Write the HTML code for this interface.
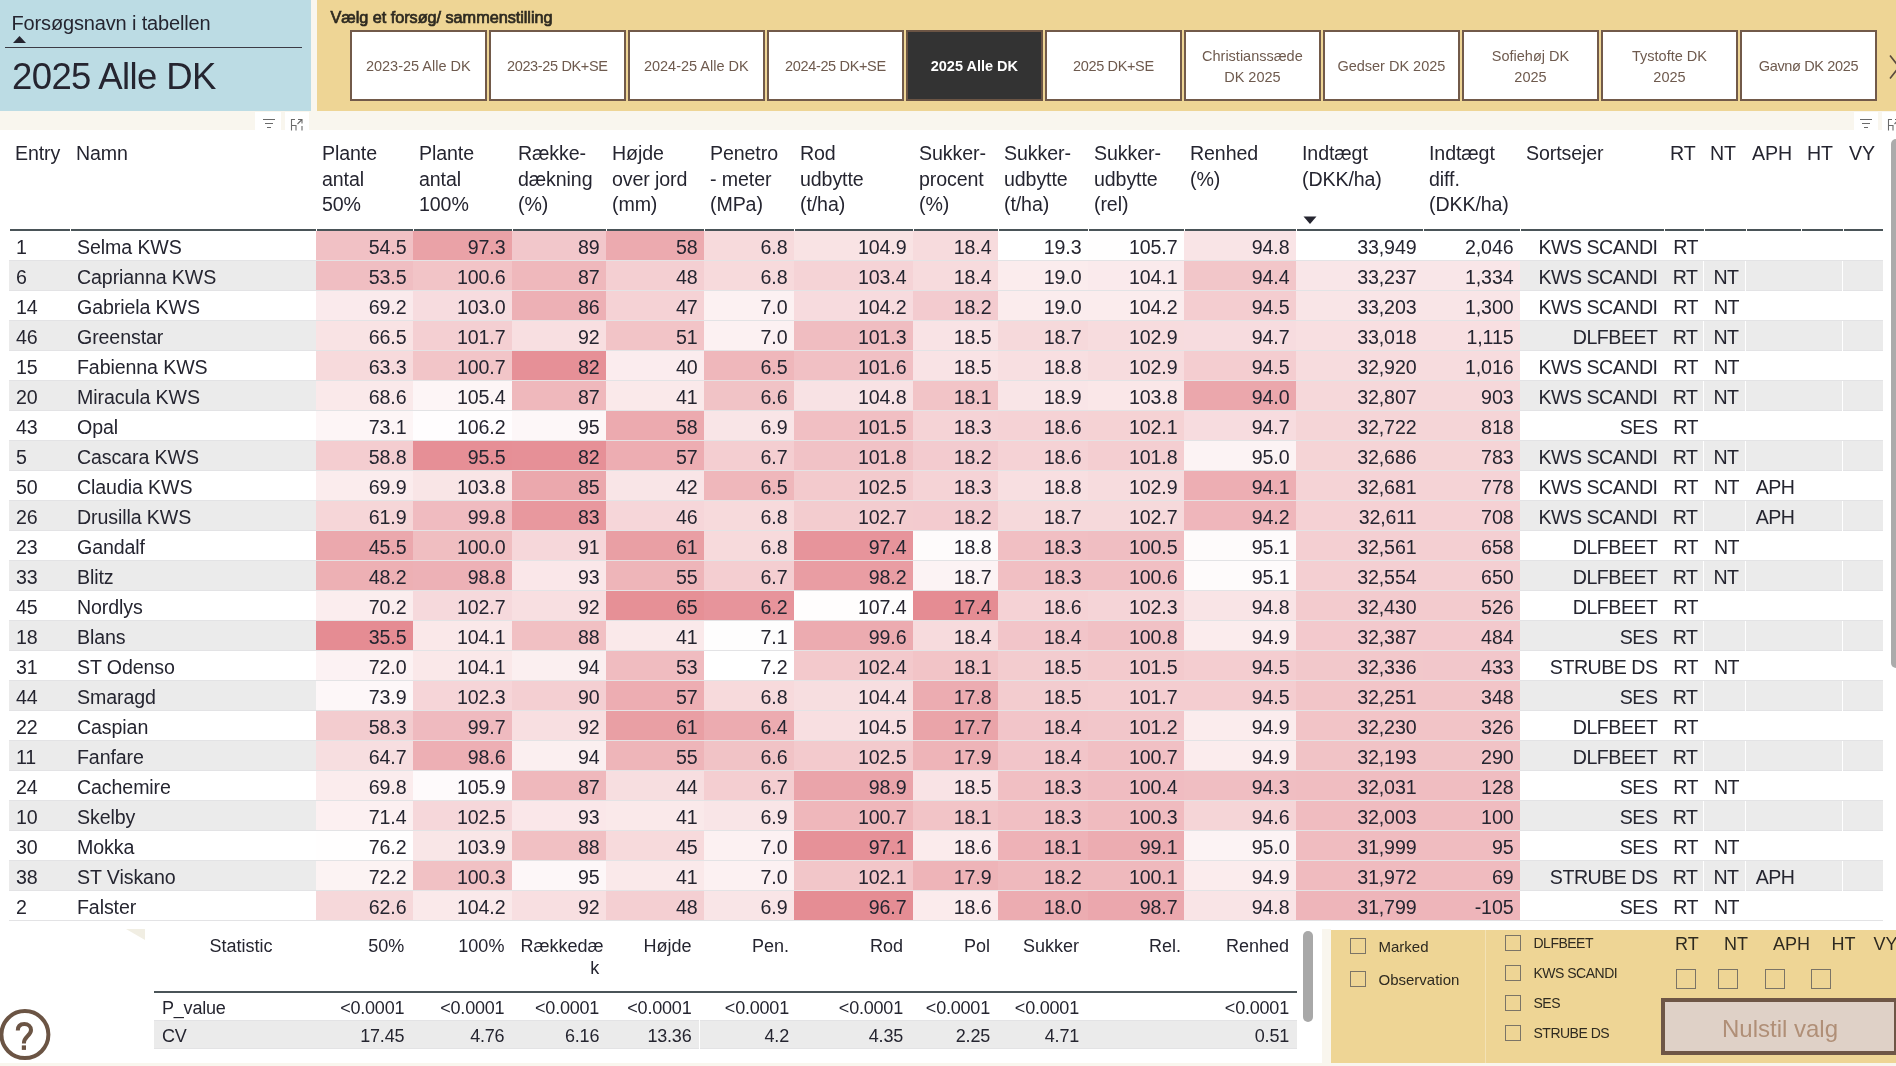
<!DOCTYPE html>
<html><head><meta charset="utf-8"><style>
*{margin:0;padding:0;box-sizing:border-box}
html,body{width:1896px;height:1066px;overflow:hidden}
body{background:#f9f6ee;font-family:"Liberation Sans",sans-serif;color:#252530;position:relative}
.a{position:absolute}
#wrap{position:absolute;left:0;top:0;width:1896px;height:1066px;will-change:transform}
#blue{left:0;top:0;width:311px;height:111px;background:#bcdce4}
#yel{left:317px;top:0;width:1579px;height:111px;background:#eed595}
.btn{position:absolute;top:30px;width:136.6px;height:71px;border:2px solid #725a4a;background:#fff;color:#6e5a4e;font-size:14.5px;display:flex;align-items:center;justify-content:center;text-align:center;line-height:21px;padding-top:2px}
.btn.act{background:#333;color:#fff;font-weight:bold;border-color:#6b5444}
#white{left:0;top:130px;width:1896px;height:933px;background:#fff}
.c{position:absolute;height:30px;line-height:33px;font-size:19.6px;letter-spacing:-0.1px;padding:0 6.5px 0 7px;white-space:nowrap;overflow:hidden;border-bottom:1px solid #e3e3e5}
.c.g{background:#ebebeb}
.c.r{text-align:right}
.c.m{text-align:center;padding:0 0 0 3px;letter-spacing:-0.6px}
.h{position:absolute;top:141px;font-size:19.6px;line-height:25.5px;padding:0 6px;white-space:nowrap;letter-spacing:-0.1px}
.hl{position:absolute;top:229px;height:2px;background:#4a5458}
.sh{position:absolute;top:934.5px;font-size:18px;line-height:22px;padding:0 8px;text-align:right;white-space:nowrap}
.sc{position:absolute;height:28px;line-height:30px;font-size:18px;padding:0 8px;text-align:right;white-space:nowrap;border-bottom:1px solid #e3e3e5;letter-spacing:-0.2px}
.sc.l{text-align:left}
.sc.g{background:#ebebeb}
.cb{position:absolute;width:16px;height:16px;border:1.3px solid #7b7466}
.cb2{position:absolute;width:20px;height:20px;border:1.3px solid #7b7466}
.lb{font-size:15px;color:#2e2a20}
.lb2{font-size:14px;color:#2e2a20;letter-spacing:-0.5px}
.lb3{font-size:18px;color:#2e2a20}
</style></head><body><div id="wrap">
<div id="blue" class="a"></div>
<div id="yel" class="a"></div>
<div class="a" style="left:11.5px;top:11.5px;font-size:20px;color:#252530;letter-spacing:-0.15px">Forsøgsnavn i tabellen</div>
<svg class="a" style="left:12px;top:35px" width="16" height="9"><path d="M1 8 L7.5 1 L14 8 Z" fill="#252530"/></svg>
<div class="a" style="left:5px;top:47px;width:297px;height:1px;background:#3b3b45"></div>
<div class="a" style="left:12px;top:56px;font-size:36.5px;color:#252530;letter-spacing:-0.6px">2025 Alle DK</div>
<div class="a" style="left:330.5px;top:7.5px;font-size:16.3px;color:#2e2a20;-webkit-text-stroke:0.7px #2e2a20;letter-spacing:-0.05px">Vælg et forsøg/ sammenstilling</div>
<div class="btn" style="left:350.0px"><span>2023-25 Alle DK</span></div><div class="btn" style="left:489.0px;letter-spacing:-0.35px"><span>2023-25 DK+SE</span></div><div class="btn" style="left:628.0px"><span>2024-25 Alle DK</span></div><div class="btn" style="left:767.1px;letter-spacing:-0.35px"><span>2024-25 DK+SE</span></div><div class="btn act" style="left:906.1px"><span>2025 Alle DK</span></div><div class="btn" style="left:1045.1px;letter-spacing:-0.35px"><span>2025 DK+SE</span></div><div class="btn" style="left:1184.1px"><span>Christianssæde<br>DK 2025</span></div><div class="btn" style="left:1323.1px"><span>Gedser DK 2025</span></div><div class="btn" style="left:1462.2px"><span>Sofiehøj DK<br>2025</span></div><div class="btn" style="left:1601.2px"><span>Tystofte DK<br>2025</span></div><div class="btn" style="left:1740.2px;letter-spacing:-0.35px"><span>Gavnø DK 2025</span></div>
<div id="white" class="a"></div>
<div class="h" style="left:9px;width:61px">Entry</div><div class="h" style="left:70px;width:246px">Namn</div><div class="h" style="left:316px;width:97px">Plante<br>antal<br>50%</div><div class="h" style="left:413px;width:99px">Plante<br>antal<br>100%</div><div class="h" style="left:512px;width:94px">Række-<br>dækning<br>(%)</div><div class="h" style="left:606px;width:98px">Højde<br>over jord<br>(mm)</div><div class="h" style="left:704px;width:90px">Penetro<br>- meter<br>(MPa)</div><div class="h" style="left:794px;width:119px">Rod<br>udbytte<br>(t/ha)</div><div class="h" style="left:913px;width:85px">Sukker-<br>procent<br>(%)</div><div class="h" style="left:998px;width:90px">Sukker-<br>udbytte<br>(t/ha)</div><div class="h" style="left:1088px;width:96px">Sukker-<br>udbytte<br>(rel)</div><div class="h" style="left:1184px;width:112px">Renhed<br>(%)</div><div class="h" style="left:1296px;width:127px">Indtægt<br>(DKK/ha)</div><div class="h" style="left:1423px;width:97px">Indtægt<br>diff.<br>(DKK/ha)</div><div class="h" style="left:1520px;width:144px">Sortsejer</div><div class="h" style="left:1664px;width:40px">RT</div><div class="h" style="left:1704px;width:42px">NT</div><div class="h" style="left:1746px;width:55px">APH</div><div class="h" style="left:1801px;width:42px">HT</div><div class="h" style="left:1843px;width:40px">VY</div>
<div class="hl" style="left:10px;width:60px"></div><div class="hl" style="left:71px;width:245px"></div><div class="hl" style="left:317px;width:96px"></div><div class="hl" style="left:414px;width:98px"></div><div class="hl" style="left:513px;width:93px"></div><div class="hl" style="left:607px;width:97px"></div><div class="hl" style="left:705px;width:89px"></div><div class="hl" style="left:795px;width:118px"></div><div class="hl" style="left:914px;width:84px"></div><div class="hl" style="left:999px;width:89px"></div><div class="hl" style="left:1089px;width:95px"></div><div class="hl" style="left:1185px;width:111px"></div><div class="hl" style="left:1297px;width:126px"></div><div class="hl" style="left:1424px;width:96px"></div><div class="hl" style="left:1521px;width:143px"></div><div class="hl" style="left:1665px;width:39px"></div><div class="hl" style="left:1705px;width:41px"></div><div class="hl" style="left:1747px;width:54px"></div><div class="hl" style="left:1802px;width:41px"></div><div class="hl" style="left:1844px;width:39px"></div>
<div class="c" style="left:9px;top:231px;width:61px">1</div><div class="c" style="left:70px;top:231px;width:246px">Selma KWS</div><div class="c r" style="left:316px;top:231px;width:97px;background:#f1c1c5">54.5</div><div class="c r" style="left:413px;top:231px;width:99px;background:#eaa2a7">97.3</div><div class="c r" style="left:512px;top:231px;width:94px;background:#f2c7cb">89</div><div class="c r" style="left:606px;top:231px;width:98px;background:#ecaaaf">58</div><div class="c r" style="left:704px;top:231px;width:90px;background:#f7dadc">6.8</div><div class="c r" style="left:794px;top:231px;width:119px;background:#f9e3e4">104.9</div><div class="c r" style="left:913px;top:231px;width:85px;background:#f7dbdd">18.4</div><div class="c r" style="left:998px;top:231px;width:90px;background:#ffffff">19.3</div><div class="c r" style="left:1088px;top:231px;width:96px;background:#fffefe">105.7</div><div class="c r" style="left:1184px;top:231px;width:112px;background:#f9e4e6">94.8</div><div class="c r" style="left:1296px;top:231px;width:127px;background:#ffffff">33,949</div><div class="c r" style="left:1423px;top:231px;width:97px;background:#ffffff">2,046</div><div class="c r" style="left:1520px;top:231px;width:144px;letter-spacing:-0.5px">KWS SCANDI</div><div class="c m" style="left:1664px;top:231px;width:40px">RT</div><div class="c m" style="left:1704px;top:231px;width:42px"></div><div class="c m" style="left:1746px;top:231px;width:55px"></div><div class="c m" style="left:1801px;top:231px;width:42px"></div><div class="c m" style="left:1843px;top:231px;width:40px"></div><div class="c g" style="left:9px;top:261px;width:61px">6</div><div class="c g" style="left:70px;top:261px;width:246px">Caprianna KWS</div><div class="c r" style="left:316px;top:261px;width:97px;background:#f0bec2">53.5</div><div class="c r" style="left:413px;top:261px;width:99px;background:#f2c4c7">100.6</div><div class="c r" style="left:512px;top:261px;width:94px;background:#efb8bc">87</div><div class="c r" style="left:606px;top:261px;width:98px;background:#f4cfd2">48</div><div class="c r" style="left:704px;top:261px;width:90px;background:#f7dadc">6.8</div><div class="c r" style="left:794px;top:261px;width:119px;background:#f5d3d6">103.4</div><div class="c r" style="left:913px;top:261px;width:85px;background:#f7dbdd">18.4</div><div class="c r" style="left:998px;top:261px;width:90px;background:#fbeced">19.0</div><div class="c r" style="left:1088px;top:261px;width:96px;background:#faeaec">104.1</div><div class="c r" style="left:1184px;top:261px;width:112px;background:#f2c6c9">94.4</div><div class="c r" style="left:1296px;top:261px;width:127px;background:#f9e6e8">33,237</div><div class="c r" style="left:1423px;top:261px;width:97px;background:#f9e6e8">1,334</div><div class="c g r" style="left:1520px;top:261px;width:144px;letter-spacing:-0.5px">KWS SCANDI</div><div class="c g m" style="left:1664px;top:261px;width:39px">RT</div><div class="c g m" style="left:1704px;top:261px;width:41px">NT</div><div class="c g m" style="left:1746px;top:261px;width:55px"></div><div class="c g m" style="left:1801px;top:261px;width:41px"></div><div class="c g m" style="left:1843px;top:261px;width:40px"></div><div class="c" style="left:9px;top:291px;width:61px">14</div><div class="c" style="left:70px;top:291px;width:246px">Gabriela KWS</div><div class="c r" style="left:316px;top:291px;width:97px;background:#faeaec">69.2</div><div class="c r" style="left:413px;top:291px;width:99px;background:#f7dcdf">103.0</div><div class="c r" style="left:512px;top:291px;width:94px;background:#edb0b5">86</div><div class="c r" style="left:606px;top:291px;width:98px;background:#f5d2d5">47</div><div class="c r" style="left:704px;top:291px;width:90px;background:#fcf1f2">7.0</div><div class="c r" style="left:794px;top:291px;width:119px;background:#f7dbde">104.2</div><div class="c r" style="left:913px;top:291px;width:85px;background:#f3cbcf">18.2</div><div class="c r" style="left:998px;top:291px;width:90px;background:#fbeced">19.0</div><div class="c r" style="left:1088px;top:291px;width:96px;background:#fbeced">104.2</div><div class="c r" style="left:1184px;top:291px;width:112px;background:#f4cdd0">94.5</div><div class="c r" style="left:1296px;top:291px;width:127px;background:#f9e5e7">33,203</div><div class="c r" style="left:1423px;top:291px;width:97px;background:#f9e5e7">1,300</div><div class="c r" style="left:1520px;top:291px;width:144px;letter-spacing:-0.5px">KWS SCANDI</div><div class="c m" style="left:1664px;top:291px;width:40px">RT</div><div class="c m" style="left:1704px;top:291px;width:42px">NT</div><div class="c m" style="left:1746px;top:291px;width:55px"></div><div class="c m" style="left:1801px;top:291px;width:42px"></div><div class="c m" style="left:1843px;top:291px;width:40px"></div><div class="c g" style="left:9px;top:321px;width:61px">46</div><div class="c g" style="left:70px;top:321px;width:246px">Greenstar</div><div class="c r" style="left:316px;top:321px;width:97px;background:#f9e3e4">66.5</div><div class="c r" style="left:413px;top:321px;width:99px;background:#f4cfd2">101.7</div><div class="c r" style="left:512px;top:321px;width:94px;background:#f8dfe1">92</div><div class="c r" style="left:606px;top:321px;width:98px;background:#f2c4c7">51</div><div class="c r" style="left:704px;top:321px;width:90px;background:#fcf1f2">7.0</div><div class="c r" style="left:794px;top:321px;width:119px;background:#f0bdc1">101.3</div><div class="c r" style="left:913px;top:321px;width:85px;background:#f9e3e5">18.5</div><div class="c r" style="left:998px;top:321px;width:90px;background:#f6d9db">18.7</div><div class="c r" style="left:1088px;top:321px;width:96px;background:#f7dcde">102.9</div><div class="c r" style="left:1184px;top:321px;width:112px;background:#f7dcdf">94.7</div><div class="c r" style="left:1296px;top:321px;width:127px;background:#f8dfe1">33,018</div><div class="c r" style="left:1423px;top:321px;width:97px;background:#f8dfe1">1,115</div><div class="c g r" style="left:1520px;top:321px;width:144px;letter-spacing:-0.5px">DLFBEET</div><div class="c g m" style="left:1664px;top:321px;width:39px">RT</div><div class="c g m" style="left:1704px;top:321px;width:41px">NT</div><div class="c g m" style="left:1746px;top:321px;width:55px"></div><div class="c g m" style="left:1801px;top:321px;width:41px"></div><div class="c g m" style="left:1843px;top:321px;width:40px"></div><div class="c" style="left:9px;top:351px;width:61px">15</div><div class="c" style="left:70px;top:351px;width:246px">Fabienna KWS</div><div class="c r" style="left:316px;top:351px;width:97px;background:#f7dadc">63.3</div><div class="c r" style="left:413px;top:351px;width:99px;background:#f2c5c8">100.7</div><div class="c r" style="left:512px;top:351px;width:94px;background:#e69097">82</div><div class="c r" style="left:606px;top:351px;width:98px;background:#fbecee">40</div><div class="c r" style="left:704px;top:351px;width:90px;background:#efb7bb">6.5</div><div class="c r" style="left:794px;top:351px;width:119px;background:#f1c0c4">101.6</div><div class="c r" style="left:913px;top:351px;width:85px;background:#f9e3e5">18.5</div><div class="c r" style="left:998px;top:351px;width:90px;background:#f8dfe1">18.8</div><div class="c r" style="left:1088px;top:351px;width:96px;background:#f7dcde">102.9</div><div class="c r" style="left:1184px;top:351px;width:112px;background:#f4cdd0">94.5</div><div class="c r" style="left:1296px;top:351px;width:127px;background:#f7dcde">32,920</div><div class="c r" style="left:1423px;top:351px;width:97px;background:#f7dcde">1,016</div><div class="c r" style="left:1520px;top:351px;width:144px;letter-spacing:-0.5px">KWS SCANDI</div><div class="c m" style="left:1664px;top:351px;width:40px">RT</div><div class="c m" style="left:1704px;top:351px;width:42px">NT</div><div class="c m" style="left:1746px;top:351px;width:55px"></div><div class="c m" style="left:1801px;top:351px;width:42px"></div><div class="c m" style="left:1843px;top:351px;width:40px"></div><div class="c g" style="left:9px;top:381px;width:61px">20</div><div class="c g" style="left:70px;top:381px;width:246px">Miracula KWS</div><div class="c r" style="left:316px;top:381px;width:97px;background:#fae9ea">68.6</div><div class="c r" style="left:413px;top:381px;width:99px;background:#fdf5f6">105.4</div><div class="c r" style="left:512px;top:381px;width:94px;background:#efb8bc">87</div><div class="c r" style="left:606px;top:381px;width:98px;background:#fae9ea">41</div><div class="c r" style="left:704px;top:381px;width:90px;background:#f1c3c6">6.6</div><div class="c r" style="left:794px;top:381px;width:119px;background:#f8e2e4">104.8</div><div class="c r" style="left:913px;top:381px;width:85px;background:#f2c4c7">18.1</div><div class="c r" style="left:998px;top:381px;width:90px;background:#f9e5e7">18.9</div><div class="c r" style="left:1088px;top:381px;width:96px;background:#fae7e8">103.8</div><div class="c r" style="left:1184px;top:381px;width:112px;background:#eba7ac">94.0</div><div class="c r" style="left:1296px;top:381px;width:127px;background:#f6d8da">32,807</div><div class="c r" style="left:1423px;top:381px;width:97px;background:#f6d8da">903</div><div class="c g r" style="left:1520px;top:381px;width:144px;letter-spacing:-0.5px">KWS SCANDI</div><div class="c g m" style="left:1664px;top:381px;width:39px">RT</div><div class="c g m" style="left:1704px;top:381px;width:41px">NT</div><div class="c g m" style="left:1746px;top:381px;width:55px"></div><div class="c g m" style="left:1801px;top:381px;width:41px"></div><div class="c g m" style="left:1843px;top:381px;width:40px"></div><div class="c" style="left:9px;top:411px;width:61px">43</div><div class="c" style="left:70px;top:411px;width:246px">Opal</div><div class="c r" style="left:316px;top:411px;width:97px;background:#fdf5f6">73.1</div><div class="c r" style="left:413px;top:411px;width:99px;background:#fffdfe">106.2</div><div class="c r" style="left:512px;top:411px;width:94px;background:#fdf7f8">95</div><div class="c r" style="left:606px;top:411px;width:98px;background:#ecaaaf">58</div><div class="c r" style="left:704px;top:411px;width:90px;background:#f9e5e7">6.9</div><div class="c r" style="left:794px;top:411px;width:119px;background:#f1bfc3">101.5</div><div class="c r" style="left:913px;top:411px;width:85px;background:#f5d3d6">18.3</div><div class="c r" style="left:998px;top:411px;width:90px;background:#f5d2d5">18.6</div><div class="c r" style="left:1088px;top:411px;width:96px;background:#f5d2d4">102.1</div><div class="c r" style="left:1184px;top:411px;width:112px;background:#f7dcdf">94.7</div><div class="c r" style="left:1296px;top:411px;width:127px;background:#f5d5d7">32,722</div><div class="c r" style="left:1423px;top:411px;width:97px;background:#f5d5d7">818</div><div class="c r" style="left:1520px;top:411px;width:144px;letter-spacing:-0.5px">SES</div><div class="c m" style="left:1664px;top:411px;width:40px">RT</div><div class="c m" style="left:1704px;top:411px;width:42px"></div><div class="c m" style="left:1746px;top:411px;width:55px"></div><div class="c m" style="left:1801px;top:411px;width:42px"></div><div class="c m" style="left:1843px;top:411px;width:40px"></div><div class="c g" style="left:9px;top:441px;width:61px">5</div><div class="c g" style="left:70px;top:441px;width:246px">Cascara KWS</div><div class="c r" style="left:316px;top:441px;width:97px;background:#f4cdd0">58.8</div><div class="c r" style="left:413px;top:441px;width:99px;background:#e68f96">95.5</div><div class="c r" style="left:512px;top:441px;width:94px;background:#e69097">82</div><div class="c r" style="left:606px;top:441px;width:98px;background:#edadb2">57</div><div class="c r" style="left:704px;top:441px;width:90px;background:#f4ced1">6.7</div><div class="c r" style="left:794px;top:441px;width:119px;background:#f1c2c6">101.8</div><div class="c r" style="left:913px;top:441px;width:85px;background:#f3cbcf">18.2</div><div class="c r" style="left:998px;top:441px;width:90px;background:#f5d2d5">18.6</div><div class="c r" style="left:1088px;top:441px;width:96px;background:#f4ced1">101.8</div><div class="c r" style="left:1184px;top:441px;width:112px;background:#fcf3f4">95.0</div><div class="c r" style="left:1296px;top:441px;width:127px;background:#f5d4d6">32,686</div><div class="c r" style="left:1423px;top:441px;width:97px;background:#f5d4d6">783</div><div class="c g r" style="left:1520px;top:441px;width:144px;letter-spacing:-0.5px">KWS SCANDI</div><div class="c g m" style="left:1664px;top:441px;width:39px">RT</div><div class="c g m" style="left:1704px;top:441px;width:41px">NT</div><div class="c g m" style="left:1746px;top:441px;width:55px"></div><div class="c g m" style="left:1801px;top:441px;width:41px"></div><div class="c g m" style="left:1843px;top:441px;width:40px"></div><div class="c" style="left:9px;top:471px;width:61px">50</div><div class="c" style="left:70px;top:471px;width:246px">Claudia KWS</div><div class="c r" style="left:316px;top:471px;width:97px;background:#fbeced">69.9</div><div class="c r" style="left:413px;top:471px;width:99px;background:#f9e5e6">103.8</div><div class="c r" style="left:512px;top:471px;width:94px;background:#eba8ad">85</div><div class="c r" style="left:606px;top:471px;width:98px;background:#f9e5e7">42</div><div class="c r" style="left:704px;top:471px;width:90px;background:#efb7bb">6.5</div><div class="c r" style="left:794px;top:471px;width:119px;background:#f3cacd">102.5</div><div class="c r" style="left:913px;top:471px;width:85px;background:#f5d3d6">18.3</div><div class="c r" style="left:998px;top:471px;width:90px;background:#f8dfe1">18.8</div><div class="c r" style="left:1088px;top:471px;width:96px;background:#f7dcde">102.9</div><div class="c r" style="left:1184px;top:471px;width:112px;background:#edaeb3">94.1</div><div class="c r" style="left:1296px;top:471px;width:127px;background:#f5d3d6">32,681</div><div class="c r" style="left:1423px;top:471px;width:97px;background:#f5d3d6">778</div><div class="c r" style="left:1520px;top:471px;width:144px;letter-spacing:-0.5px">KWS SCANDI</div><div class="c m" style="left:1664px;top:471px;width:40px">RT</div><div class="c m" style="left:1704px;top:471px;width:42px">NT</div><div class="c m" style="left:1746px;top:471px;width:55px">APH</div><div class="c m" style="left:1801px;top:471px;width:42px"></div><div class="c m" style="left:1843px;top:471px;width:40px"></div><div class="c g" style="left:9px;top:501px;width:61px">26</div><div class="c g" style="left:70px;top:501px;width:246px">Drusilla KWS</div><div class="c r" style="left:316px;top:501px;width:97px;background:#f6d6d8">61.9</div><div class="c r" style="left:413px;top:501px;width:99px;background:#f0bbc0">99.8</div><div class="c r" style="left:512px;top:501px;width:94px;background:#e8989e">83</div><div class="c r" style="left:606px;top:501px;width:98px;background:#f6d6d9">46</div><div class="c r" style="left:704px;top:501px;width:90px;background:#f7dadc">6.8</div><div class="c r" style="left:794px;top:501px;width:119px;background:#f3cccf">102.7</div><div class="c r" style="left:913px;top:501px;width:85px;background:#f3cbcf">18.2</div><div class="c r" style="left:998px;top:501px;width:90px;background:#f6d9db">18.7</div><div class="c r" style="left:1088px;top:501px;width:96px;background:#f6d9db">102.7</div><div class="c r" style="left:1184px;top:501px;width:112px;background:#efb6bb">94.2</div><div class="c r" style="left:1296px;top:501px;width:127px;background:#f5d1d4">32,611</div><div class="c r" style="left:1423px;top:501px;width:97px;background:#f5d1d4">708</div><div class="c g r" style="left:1520px;top:501px;width:144px;letter-spacing:-0.5px">KWS SCANDI</div><div class="c g m" style="left:1664px;top:501px;width:39px">RT</div><div class="c g m" style="left:1704px;top:501px;width:41px"></div><div class="c g m" style="left:1746px;top:501px;width:55px">APH</div><div class="c g m" style="left:1801px;top:501px;width:41px"></div><div class="c g m" style="left:1843px;top:501px;width:40px"></div><div class="c" style="left:9px;top:531px;width:61px">23</div><div class="c" style="left:70px;top:531px;width:246px">Gandalf</div><div class="c r" style="left:316px;top:531px;width:97px;background:#eba8ad">45.5</div><div class="c r" style="left:413px;top:531px;width:99px;background:#f0bec1">100.0</div><div class="c r" style="left:512px;top:531px;width:94px;background:#f6d7da">91</div><div class="c r" style="left:606px;top:531px;width:98px;background:#e99fa4">61</div><div class="c r" style="left:704px;top:531px;width:90px;background:#f7dadc">6.8</div><div class="c r" style="left:794px;top:531px;width:119px;background:#e7949b">97.4</div><div class="c r" style="left:913px;top:531px;width:85px;background:#fefbfb">18.8</div><div class="c r" style="left:998px;top:531px;width:90px;background:#f1bfc3">18.3</div><div class="c r" style="left:1088px;top:531px;width:96px;background:#f0bec2">100.5</div><div class="c r" style="left:1184px;top:531px;width:112px;background:#fefbfb">95.1</div><div class="c r" style="left:1296px;top:531px;width:127px;background:#f4cfd2">32,561</div><div class="c r" style="left:1423px;top:531px;width:97px;background:#f4cfd2">658</div><div class="c r" style="left:1520px;top:531px;width:144px;letter-spacing:-0.5px">DLFBEET</div><div class="c m" style="left:1664px;top:531px;width:40px">RT</div><div class="c m" style="left:1704px;top:531px;width:42px">NT</div><div class="c m" style="left:1746px;top:531px;width:55px"></div><div class="c m" style="left:1801px;top:531px;width:42px"></div><div class="c m" style="left:1843px;top:531px;width:40px"></div><div class="c g" style="left:9px;top:561px;width:61px">33</div><div class="c g" style="left:70px;top:561px;width:246px">Blitz</div><div class="c r" style="left:316px;top:561px;width:97px;background:#edb0b4">48.2</div><div class="c r" style="left:413px;top:561px;width:99px;background:#edb1b6">98.8</div><div class="c r" style="left:512px;top:561px;width:94px;background:#fae7e9">93</div><div class="c r" style="left:606px;top:561px;width:98px;background:#eeb5b9">55</div><div class="c r" style="left:704px;top:561px;width:90px;background:#f4ced1">6.7</div><div class="c r" style="left:794px;top:561px;width:119px;background:#e99da3">98.2</div><div class="c r" style="left:913px;top:561px;width:85px;background:#fcf3f4">18.7</div><div class="c r" style="left:998px;top:561px;width:90px;background:#f1bfc3">18.3</div><div class="c r" style="left:1088px;top:561px;width:96px;background:#f1bfc3">100.6</div><div class="c r" style="left:1184px;top:561px;width:112px;background:#fefbfb">95.1</div><div class="c r" style="left:1296px;top:561px;width:127px;background:#f4cfd2">32,554</div><div class="c r" style="left:1423px;top:561px;width:97px;background:#f4cfd2">650</div><div class="c g r" style="left:1520px;top:561px;width:144px;letter-spacing:-0.5px">DLFBEET</div><div class="c g m" style="left:1664px;top:561px;width:39px">RT</div><div class="c g m" style="left:1704px;top:561px;width:41px">NT</div><div class="c g m" style="left:1746px;top:561px;width:55px"></div><div class="c g m" style="left:1801px;top:561px;width:41px"></div><div class="c g m" style="left:1843px;top:561px;width:40px"></div><div class="c" style="left:9px;top:591px;width:61px">45</div><div class="c" style="left:70px;top:591px;width:246px">Nordlys</div><div class="c r" style="left:316px;top:591px;width:97px;background:#fbedee">70.2</div><div class="c r" style="left:413px;top:591px;width:99px;background:#f6d9dc">102.7</div><div class="c r" style="left:512px;top:591px;width:94px;background:#f8dfe1">92</div><div class="c r" style="left:606px;top:591px;width:98px;background:#e69096">65</div><div class="c r" style="left:704px;top:591px;width:90px;background:#e7949b">6.2</div><div class="c r" style="left:794px;top:591px;width:119px;background:#fffdfd">107.4</div><div class="c r" style="left:913px;top:591px;width:85px;background:#e58c93">17.4</div><div class="c r" style="left:998px;top:591px;width:90px;background:#f5d2d5">18.6</div><div class="c r" style="left:1088px;top:591px;width:96px;background:#f5d4d7">102.3</div><div class="c r" style="left:1184px;top:591px;width:112px;background:#f9e4e6">94.8</div><div class="c r" style="left:1296px;top:591px;width:127px;background:#f3cbce">32,430</div><div class="c r" style="left:1423px;top:591px;width:97px;background:#f3cbce">526</div><div class="c r" style="left:1520px;top:591px;width:144px;letter-spacing:-0.5px">DLFBEET</div><div class="c m" style="left:1664px;top:591px;width:40px">RT</div><div class="c m" style="left:1704px;top:591px;width:42px"></div><div class="c m" style="left:1746px;top:591px;width:55px"></div><div class="c m" style="left:1801px;top:591px;width:42px"></div><div class="c m" style="left:1843px;top:591px;width:40px"></div><div class="c g" style="left:9px;top:621px;width:61px">18</div><div class="c g" style="left:70px;top:621px;width:246px">Blans</div><div class="c r" style="left:316px;top:621px;width:97px;background:#e58c93">35.5</div><div class="c r" style="left:413px;top:621px;width:99px;background:#fae8e9">104.1</div><div class="c r" style="left:512px;top:621px;width:94px;background:#f1c0c3">88</div><div class="c r" style="left:606px;top:621px;width:98px;background:#fae9ea">41</div><div class="c r" style="left:704px;top:621px;width:90px;background:#fefdfd">7.1</div><div class="c r" style="left:794px;top:621px;width:119px;background:#ecabb0">99.6</div><div class="c r" style="left:913px;top:621px;width:85px;background:#f7dbdd">18.4</div><div class="c r" style="left:998px;top:621px;width:90px;background:#f2c5c9">18.4</div><div class="c r" style="left:1088px;top:621px;width:96px;background:#f1c1c5">100.8</div><div class="c r" style="left:1184px;top:621px;width:112px;background:#fbeced">94.9</div><div class="c r" style="left:1296px;top:621px;width:127px;background:#f3c9cd">32,387</div><div class="c r" style="left:1423px;top:621px;width:97px;background:#f3c9cd">484</div><div class="c g r" style="left:1520px;top:621px;width:144px;letter-spacing:-0.5px">SES</div><div class="c g m" style="left:1664px;top:621px;width:39px">RT</div><div class="c g m" style="left:1704px;top:621px;width:41px"></div><div class="c g m" style="left:1746px;top:621px;width:55px"></div><div class="c g m" style="left:1801px;top:621px;width:41px"></div><div class="c g m" style="left:1843px;top:621px;width:40px"></div><div class="c" style="left:9px;top:651px;width:61px">31</div><div class="c" style="left:70px;top:651px;width:246px">ST Odenso</div><div class="c r" style="left:316px;top:651px;width:97px;background:#fcf2f3">72.0</div><div class="c r" style="left:413px;top:651px;width:99px;background:#fae8e9">104.1</div><div class="c r" style="left:512px;top:651px;width:94px;background:#fbeff0">94</div><div class="c r" style="left:606px;top:651px;width:98px;background:#f0bcc0">53</div><div class="c r" style="left:704px;top:651px;width:90px;background:#ffffff">7.2</div><div class="c r" style="left:794px;top:651px;width:119px;background:#f3c9cc">102.4</div><div class="c r" style="left:913px;top:651px;width:85px;background:#f2c4c7">18.1</div><div class="c r" style="left:998px;top:651px;width:90px;background:#f3cccf">18.5</div><div class="c r" style="left:1088px;top:651px;width:96px;background:#f3cacd">101.5</div><div class="c r" style="left:1184px;top:651px;width:112px;background:#f4cdd0">94.5</div><div class="c r" style="left:1296px;top:651px;width:127px;background:#f2c8cb">32,336</div><div class="c r" style="left:1423px;top:651px;width:97px;background:#f2c7cb">433</div><div class="c r" style="left:1520px;top:651px;width:144px;letter-spacing:-0.5px">STRUBE DS</div><div class="c m" style="left:1664px;top:651px;width:40px">RT</div><div class="c m" style="left:1704px;top:651px;width:42px">NT</div><div class="c m" style="left:1746px;top:651px;width:55px"></div><div class="c m" style="left:1801px;top:651px;width:42px"></div><div class="c m" style="left:1843px;top:651px;width:40px"></div><div class="c g" style="left:9px;top:681px;width:61px">44</div><div class="c g" style="left:70px;top:681px;width:246px">Smaragd</div><div class="c r" style="left:316px;top:681px;width:97px;background:#fdf7f8">73.9</div><div class="c r" style="left:413px;top:681px;width:99px;background:#f6d5d8">102.3</div><div class="c r" style="left:512px;top:681px;width:94px;background:#f4cfd2">90</div><div class="c r" style="left:606px;top:681px;width:98px;background:#edadb2">57</div><div class="c r" style="left:704px;top:681px;width:90px;background:#f7dadc">6.8</div><div class="c r" style="left:794px;top:681px;width:119px;background:#f7dee0">104.4</div><div class="c r" style="left:913px;top:681px;width:85px;background:#ecacb1">17.8</div><div class="c r" style="left:998px;top:681px;width:90px;background:#f3cccf">18.5</div><div class="c r" style="left:1088px;top:681px;width:96px;background:#f4cdd0">101.7</div><div class="c r" style="left:1184px;top:681px;width:112px;background:#f4cdd0">94.5</div><div class="c r" style="left:1296px;top:681px;width:127px;background:#f2c5c8">32,251</div><div class="c r" style="left:1423px;top:681px;width:97px;background:#f2c5c8">348</div><div class="c g r" style="left:1520px;top:681px;width:144px;letter-spacing:-0.5px">SES</div><div class="c g m" style="left:1664px;top:681px;width:39px">RT</div><div class="c g m" style="left:1704px;top:681px;width:41px"></div><div class="c g m" style="left:1746px;top:681px;width:55px"></div><div class="c g m" style="left:1801px;top:681px;width:41px"></div><div class="c g m" style="left:1843px;top:681px;width:40px"></div><div class="c" style="left:9px;top:711px;width:61px">22</div><div class="c" style="left:70px;top:711px;width:246px">Caspian</div><div class="c r" style="left:316px;top:711px;width:97px;background:#f3cccf">58.3</div><div class="c r" style="left:413px;top:711px;width:99px;background:#efbabf">99.7</div><div class="c r" style="left:512px;top:711px;width:94px;background:#f8dfe1">92</div><div class="c r" style="left:606px;top:711px;width:98px;background:#e99fa4">61</div><div class="c r" style="left:704px;top:711px;width:90px;background:#ecabb0">6.4</div><div class="c r" style="left:794px;top:711px;width:119px;background:#f8dfe1">104.5</div><div class="c r" style="left:913px;top:711px;width:85px;background:#eaa4a9">17.7</div><div class="c r" style="left:998px;top:711px;width:90px;background:#f2c5c9">18.4</div><div class="c r" style="left:1088px;top:711px;width:96px;background:#f2c6ca">101.2</div><div class="c r" style="left:1184px;top:711px;width:112px;background:#fbeced">94.9</div><div class="c r" style="left:1296px;top:711px;width:127px;background:#f2c4c7">32,230</div><div class="c r" style="left:1423px;top:711px;width:97px;background:#f2c4c7">326</div><div class="c r" style="left:1520px;top:711px;width:144px;letter-spacing:-0.5px">DLFBEET</div><div class="c m" style="left:1664px;top:711px;width:40px">RT</div><div class="c m" style="left:1704px;top:711px;width:42px"></div><div class="c m" style="left:1746px;top:711px;width:55px"></div><div class="c m" style="left:1801px;top:711px;width:42px"></div><div class="c m" style="left:1843px;top:711px;width:40px"></div><div class="c g" style="left:9px;top:741px;width:61px">11</div><div class="c g" style="left:70px;top:741px;width:246px">Fanfare</div><div class="c r" style="left:316px;top:741px;width:97px;background:#f7dee0">64.7</div><div class="c r" style="left:413px;top:741px;width:99px;background:#edafb4">98.6</div><div class="c r" style="left:512px;top:741px;width:94px;background:#fbeff0">94</div><div class="c r" style="left:606px;top:741px;width:98px;background:#eeb5b9">55</div><div class="c r" style="left:704px;top:741px;width:90px;background:#f1c3c6">6.6</div><div class="c r" style="left:794px;top:741px;width:119px;background:#f3cacd">102.5</div><div class="c r" style="left:913px;top:741px;width:85px;background:#eeb4b8">17.9</div><div class="c r" style="left:998px;top:741px;width:90px;background:#f2c5c9">18.4</div><div class="c r" style="left:1088px;top:741px;width:96px;background:#f1c0c4">100.7</div><div class="c r" style="left:1184px;top:741px;width:112px;background:#fbeced">94.9</div><div class="c r" style="left:1296px;top:741px;width:127px;background:#f1c3c6">32,193</div><div class="c r" style="left:1423px;top:741px;width:97px;background:#f1c3c6">290</div><div class="c g r" style="left:1520px;top:741px;width:144px;letter-spacing:-0.5px">DLFBEET</div><div class="c g m" style="left:1664px;top:741px;width:39px">RT</div><div class="c g m" style="left:1704px;top:741px;width:41px"></div><div class="c g m" style="left:1746px;top:741px;width:55px"></div><div class="c g m" style="left:1801px;top:741px;width:41px"></div><div class="c g m" style="left:1843px;top:741px;width:40px"></div><div class="c" style="left:9px;top:771px;width:61px">24</div><div class="c" style="left:70px;top:771px;width:246px">Cachemire</div><div class="c r" style="left:316px;top:771px;width:97px;background:#fbeced">69.8</div><div class="c r" style="left:413px;top:771px;width:99px;background:#fefafb">105.9</div><div class="c r" style="left:512px;top:771px;width:94px;background:#efb8bc">87</div><div class="c r" style="left:606px;top:771px;width:98px;background:#f7dee0">44</div><div class="c r" style="left:704px;top:771px;width:90px;background:#f4ced1">6.7</div><div class="c r" style="left:794px;top:771px;width:119px;background:#eaa4aa">98.9</div><div class="c r" style="left:913px;top:771px;width:85px;background:#f9e3e5">18.5</div><div class="c r" style="left:998px;top:771px;width:90px;background:#f1bfc3">18.3</div><div class="c r" style="left:1088px;top:771px;width:96px;background:#f0bcc1">100.4</div><div class="c r" style="left:1184px;top:771px;width:112px;background:#f0bec2">94.3</div><div class="c r" style="left:1296px;top:771px;width:127px;background:#f0bdc1">32,031</div><div class="c r" style="left:1423px;top:771px;width:97px;background:#f0bdc1">128</div><div class="c r" style="left:1520px;top:771px;width:144px;letter-spacing:-0.5px">SES</div><div class="c m" style="left:1664px;top:771px;width:40px">RT</div><div class="c m" style="left:1704px;top:771px;width:42px">NT</div><div class="c m" style="left:1746px;top:771px;width:55px"></div><div class="c m" style="left:1801px;top:771px;width:42px"></div><div class="c m" style="left:1843px;top:771px;width:40px"></div><div class="c g" style="left:9px;top:801px;width:61px">10</div><div class="c g" style="left:70px;top:801px;width:246px">Skelby</div><div class="c r" style="left:316px;top:801px;width:97px;background:#fcf0f1">71.4</div><div class="c r" style="left:413px;top:801px;width:99px;background:#f6d7da">102.5</div><div class="c r" style="left:512px;top:801px;width:94px;background:#fae7e9">93</div><div class="c r" style="left:606px;top:801px;width:98px;background:#fae9ea">41</div><div class="c r" style="left:704px;top:801px;width:90px;background:#f9e5e7">6.9</div><div class="c r" style="left:794px;top:801px;width:119px;background:#efb7bb">100.7</div><div class="c r" style="left:913px;top:801px;width:85px;background:#f2c4c7">18.1</div><div class="c r" style="left:998px;top:801px;width:90px;background:#f1bfc3">18.3</div><div class="c r" style="left:1088px;top:801px;width:96px;background:#f0bbbf">100.3</div><div class="c r" style="left:1184px;top:801px;width:112px;background:#f5d5d7">94.6</div><div class="c r" style="left:1296px;top:801px;width:127px;background:#f0bcc0">32,003</div><div class="c r" style="left:1423px;top:801px;width:97px;background:#f0bcc0">100</div><div class="c g r" style="left:1520px;top:801px;width:144px;letter-spacing:-0.5px">SES</div><div class="c g m" style="left:1664px;top:801px;width:39px">RT</div><div class="c g m" style="left:1704px;top:801px;width:41px"></div><div class="c g m" style="left:1746px;top:801px;width:55px"></div><div class="c g m" style="left:1801px;top:801px;width:41px"></div><div class="c g m" style="left:1843px;top:801px;width:40px"></div><div class="c" style="left:9px;top:831px;width:61px">30</div><div class="c" style="left:70px;top:831px;width:246px">Mokka</div><div class="c r" style="left:316px;top:831px;width:97px;background:#fffefe">76.2</div><div class="c r" style="left:413px;top:831px;width:99px;background:#f9e6e7">103.9</div><div class="c r" style="left:512px;top:831px;width:94px;background:#f1c0c3">88</div><div class="c r" style="left:606px;top:831px;width:98px;background:#f7dadc">45</div><div class="c r" style="left:704px;top:831px;width:90px;background:#fcf1f2">7.0</div><div class="c r" style="left:794px;top:831px;width:119px;background:#e69198">97.1</div><div class="c r" style="left:913px;top:831px;width:85px;background:#fbebec">18.6</div><div class="c r" style="left:998px;top:831px;width:90px;background:#eeb2b7">18.1</div><div class="c r" style="left:1088px;top:831px;width:96px;background:#ecacb1">99.1</div><div class="c r" style="left:1184px;top:831px;width:112px;background:#fcf3f4">95.0</div><div class="c r" style="left:1296px;top:831px;width:127px;background:#f0bcc0">31,999</div><div class="c r" style="left:1423px;top:831px;width:97px;background:#f0bcc0">95</div><div class="c r" style="left:1520px;top:831px;width:144px;letter-spacing:-0.5px">SES</div><div class="c m" style="left:1664px;top:831px;width:40px">RT</div><div class="c m" style="left:1704px;top:831px;width:42px">NT</div><div class="c m" style="left:1746px;top:831px;width:55px"></div><div class="c m" style="left:1801px;top:831px;width:42px"></div><div class="c m" style="left:1843px;top:831px;width:40px"></div><div class="c g" style="left:9px;top:861px;width:61px">38</div><div class="c g" style="left:70px;top:861px;width:246px">ST Viskano</div><div class="c r" style="left:316px;top:861px;width:97px;background:#fcf3f3">72.2</div><div class="c r" style="left:413px;top:861px;width:99px;background:#f1c1c4">100.3</div><div class="c r" style="left:512px;top:861px;width:94px;background:#fdf7f8">95</div><div class="c r" style="left:606px;top:861px;width:98px;background:#fae9ea">41</div><div class="c r" style="left:704px;top:861px;width:90px;background:#fcf1f2">7.0</div><div class="c r" style="left:794px;top:861px;width:119px;background:#f2c6c9">102.1</div><div class="c r" style="left:913px;top:861px;width:85px;background:#eeb4b8">17.9</div><div class="c r" style="left:998px;top:861px;width:90px;background:#efb9bd">18.2</div><div class="c r" style="left:1088px;top:861px;width:96px;background:#efb9bd">100.1</div><div class="c r" style="left:1184px;top:861px;width:112px;background:#fbeced">94.9</div><div class="c r" style="left:1296px;top:861px;width:127px;background:#f0bbbf">31,972</div><div class="c r" style="left:1423px;top:861px;width:97px;background:#f0bbbf">69</div><div class="c g r" style="left:1520px;top:861px;width:144px;letter-spacing:-0.5px">STRUBE DS</div><div class="c g m" style="left:1664px;top:861px;width:39px">RT</div><div class="c g m" style="left:1704px;top:861px;width:41px">NT</div><div class="c g m" style="left:1746px;top:861px;width:55px">APH</div><div class="c g m" style="left:1801px;top:861px;width:41px"></div><div class="c g m" style="left:1843px;top:861px;width:40px"></div><div class="c" style="left:9px;top:891px;width:61px">2</div><div class="c" style="left:70px;top:891px;width:246px">Falster</div><div class="c r" style="left:316px;top:891px;width:97px;background:#f6d8da">62.6</div><div class="c r" style="left:413px;top:891px;width:99px;background:#fae9ea">104.2</div><div class="c r" style="left:512px;top:891px;width:94px;background:#f8dfe1">92</div><div class="c r" style="left:606px;top:891px;width:98px;background:#f4cfd2">48</div><div class="c r" style="left:704px;top:891px;width:90px;background:#f9e5e7">6.9</div><div class="c r" style="left:794px;top:891px;width:119px;background:#e58d94">96.7</div><div class="c r" style="left:913px;top:891px;width:85px;background:#fbebec">18.6</div><div class="c r" style="left:998px;top:891px;width:90px;background:#ecacb1">18.0</div><div class="c r" style="left:1088px;top:891px;width:96px;background:#eba7ad">98.7</div><div class="c r" style="left:1184px;top:891px;width:112px;background:#f9e4e6">94.8</div><div class="c r" style="left:1296px;top:891px;width:127px;background:#eeb5ba">31,799</div><div class="c r" style="left:1423px;top:891px;width:97px;background:#eeb5ba">-105</div><div class="c r" style="left:1520px;top:891px;width:144px;letter-spacing:-0.5px">SES</div><div class="c m" style="left:1664px;top:891px;width:40px">RT</div><div class="c m" style="left:1704px;top:891px;width:42px">NT</div><div class="c m" style="left:1746px;top:891px;width:55px"></div><div class="c m" style="left:1801px;top:891px;width:42px"></div><div class="c m" style="left:1843px;top:891px;width:40px"></div>
<div class="sh" style="left:154px;width:126.5px">Statistic</div><div class="sc l" style="left:154px;top:993px;width:126.5px">P_value</div><div class="sc g l" style="left:154px;top:1021px;width:126.5px">CV</div><div class="sh" style="left:280.5px;width:131.8px">50%</div><div class="sc " style="left:280.5px;top:993px;width:131.8px">&lt;0.0001</div><div class="sc g " style="left:280.5px;top:1021px;width:131.8px">17.45</div><div class="sh" style="left:412.3px;width:100.09999999999997px">100%</div><div class="sc " style="left:412.3px;top:993px;width:100.09999999999997px">&lt;0.0001</div><div class="sc g " style="left:412.3px;top:1021px;width:100.09999999999997px">4.76</div><div class="sh" style="left:512.4px;width:94.80000000000007px">Rækkedæ<br>k</div><div class="sc " style="left:512.4px;top:993px;width:94.80000000000007px">&lt;0.0001</div><div class="sc g " style="left:512.4px;top:1021px;width:94.80000000000007px">6.16</div><div class="sh" style="left:607.2px;width:92.29999999999995px">Højde</div><div class="sc " style="left:607.2px;top:993px;width:92.29999999999995px">&lt;0.0001</div><div class="sc g " style="left:607.2px;top:1021px;width:92.29999999999995px">13.36</div><div class="sh" style="left:699.5px;width:97.5px">Pen.</div><div class="sc " style="left:699.5px;top:993px;width:97.5px">&lt;0.0001</div><div class="sc g " style="left:699.5px;top:1021px;width:97.5px">4.2</div><div class="sh" style="left:797px;width:114px">Rod</div><div class="sc " style="left:797px;top:993px;width:114px">&lt;0.0001</div><div class="sc g " style="left:797px;top:1021px;width:114px">4.35</div><div class="sh" style="left:911px;width:87px">Pol</div><div class="sc " style="left:911px;top:993px;width:87px">&lt;0.0001</div><div class="sc g " style="left:911px;top:1021px;width:87px">2.25</div><div class="sh" style="left:998px;width:89px">Sukker</div><div class="sc " style="left:998px;top:993px;width:89px">&lt;0.0001</div><div class="sc g " style="left:998px;top:1021px;width:89px">4.71</div><div class="sh" style="left:1087px;width:102px">Rel.</div><div class="sc " style="left:1087px;top:993px;width:102px"></div><div class="sc g " style="left:1087px;top:1021px;width:102px"></div><div class="sh" style="left:1189px;width:108px">Renhed</div><div class="sc " style="left:1189px;top:993px;width:108px">&lt;0.0001</div><div class="sc g " style="left:1189px;top:1021px;width:108px">0.51</div>
<div class="a" style="left:154px;top:991px;width:1143px;height:2px;background:#4a5458"></div>

<!-- icons row -->
<div class="a" style="left:255px;top:112px;width:26px;height:18px;background:#fff"></div>
<div class="a" style="left:285px;top:112px;width:24px;height:18px;background:#fff"></div>
<svg class="a" style="left:262px;top:117px" width="14" height="12"><path d="M1 2.5H13M3 6.5H11M5 10.5H9" stroke="#6a6a6a" stroke-width="1.1"/></svg>
<svg class="a" style="left:290px;top:118px" width="14" height="13"><path d="M5 1.5H1.5V12.5M1.5 7.5H6V12.5M12 8V12.5M8 1.5H12V5.5M12 1.5L7.5 6" stroke="#6a6a6a" stroke-width="1.1" fill="none"/></svg>
<div class="a" style="left:1854px;top:112px;width:24px;height:18px;background:#fff"></div>
<div class="a" style="left:1882px;top:112px;width:14px;height:18px;background:#fff"></div>
<svg class="a" style="left:1859px;top:117px" width="14" height="12"><path d="M1 2.5H13M3 6.5H11M5 10.5H9" stroke="#6a6a6a" stroke-width="1.1"/></svg>
<svg class="a" style="left:1887px;top:118px" width="14" height="13"><path d="M5 1.5H1.5V12.5M1.5 7.5H6V12.5M12 8V12.5M8 1.5H12V5.5M12 1.5L7.5 6" stroke="#6a6a6a" stroke-width="1.1" fill="none"/></svg>
<!-- chevron -->
<svg class="a" style="left:1886px;top:50px" width="10" height="34"><path d="M4 5.5L13 17L4 28.5" stroke="#5a4a3e" stroke-width="1.6" fill="none"/></svg>
<!-- sort arrow -->
<svg class="a" style="left:1303px;top:216px" width="14" height="9"><path d="M0.5 0.5H13.5L7 8Z" fill="#252530"/></svg>
<!-- main scrollbar -->
<div class="a" style="left:1891px;top:139px;width:10px;height:529px;background:#ababab;border-radius:5px"></div>
<!-- stats scrollbar -->
<div class="a" style="left:1303px;top:931px;width:10px;height:91px;background:#a8a8a8;border-radius:5px"></div>
<!-- help icon -->
<svg class="a" style="left:0px;top:1000px" width="60" height="66"><g transform="translate(0,-1000)"><circle cx="24.9" cy="1034.6" r="23.5" stroke="#6b5444" stroke-width="4" fill="none"/><path d="M17.8 1030.6C17.8 1026 20.6 1024 24.3 1024C28.2 1024 31 1026.5 31 1030C31 1033 29.2 1034.6 27.2 1036.5C25 1038.6 23.9 1040.2 23.9 1043.4" stroke="#6b5444" stroke-width="4" fill="none"/><rect x="21.8" y="1045.4" width="4.2" height="4.5" fill="#6b5444"/></g></svg>
<!-- small cream triangle -->
<svg class="a" style="left:126px;top:929px" width="20" height="12"><path d="M0 0H19V11Z" fill="#f1eee3"/></svg>
<!-- bottom cream strip -->
<div class="a" style="left:278px;top:1063px;width:1620px;height:3px;background:#f9f6ee"></div>
<!-- bottom panels -->
<div class="a" style="left:1322px;top:929px;width:9px;height:137px;background:#f9f6ee"></div>
<div class="a" style="left:1331px;top:930px;width:565px;height:133px;background:#eed595"></div>
<div class="a" style="left:1485px;top:930px;width:1px;height:133px;background:#f3e2b5"></div>
<div class="cb" style="left:1350px;top:938px"></div><div class="a lb" style="left:1378.5px;top:938px">Marked</div>
<div class="cb" style="left:1350px;top:971px"></div><div class="a lb" style="left:1378.5px;top:971px">Observation</div>
<div class="cb" style="left:1505px;top:935px"></div><div class="a lb2" style="left:1533.5px;top:935px">DLFBEET</div>
<div class="cb" style="left:1505px;top:965px"></div><div class="a lb2" style="left:1533.5px;top:965px">KWS SCANDI</div>
<div class="cb" style="left:1505px;top:995px"></div><div class="a lb2" style="left:1533.5px;top:995px">SES</div>
<div class="cb" style="left:1505px;top:1025px"></div><div class="a lb2" style="left:1533.5px;top:1025px">STRUBE DS</div>
<div class="a lb3" style="left:1675px;top:934px">RT</div>
<div class="a lb3" style="left:1724px;top:934px">NT</div>
<div class="a lb3" style="left:1773px;top:934px">APH</div>
<div class="a lb3" style="left:1831.5px;top:934px">HT</div>
<div class="a lb3" style="left:1873.5px;top:934px">VY</div>
<div class="cb2" style="left:1676px;top:969px"></div>
<div class="cb2" style="left:1718px;top:969px"></div>
<div class="cb2" style="left:1765px;top:969px"></div>
<div class="cb2" style="left:1811px;top:969px"></div>
<div class="a" style="left:1661px;top:998px;width:237px;height:57px;border:4px solid #6e5646;background:#dfd1c7;color:#b08f77;font-size:24px;line-height:53px;padding-left:57px">Nulstil valg</div>
</div></body></html>
